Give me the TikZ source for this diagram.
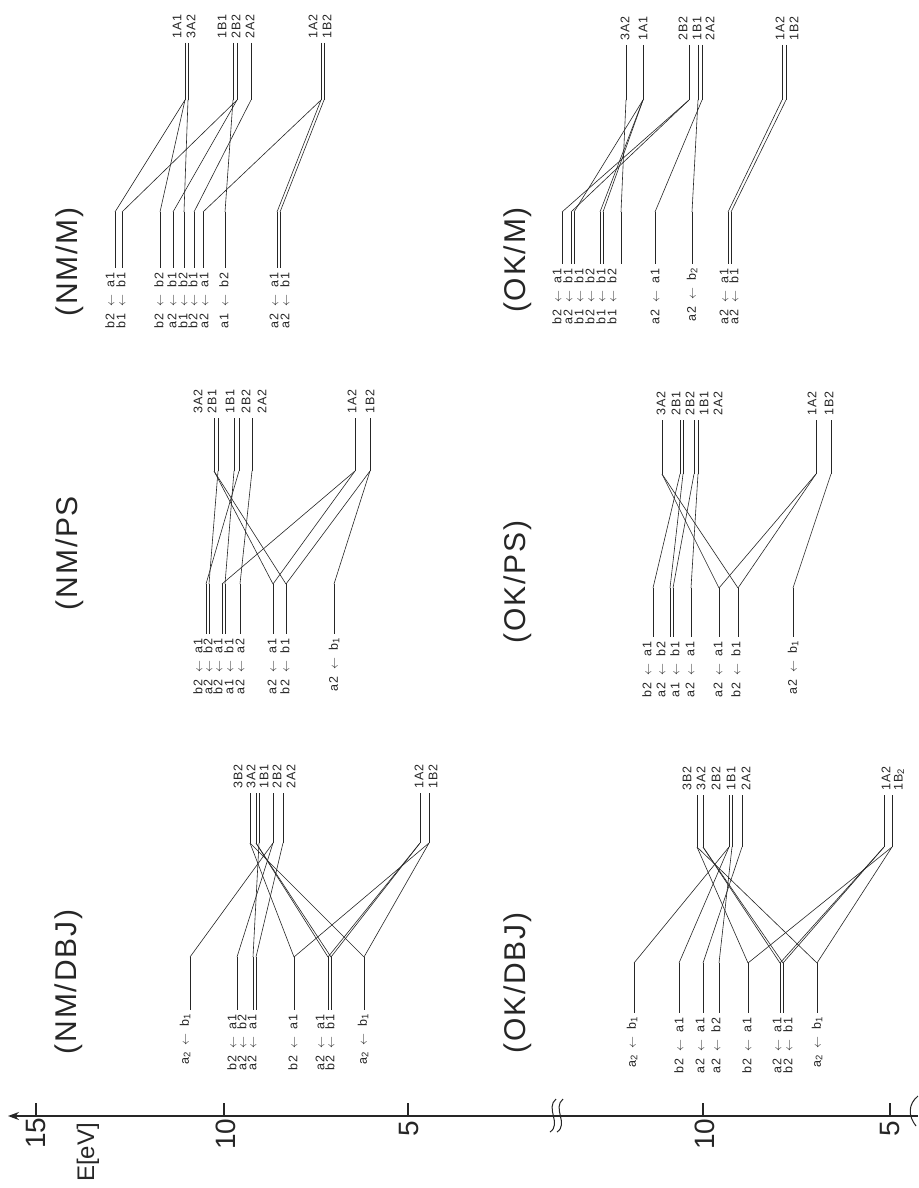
\documentclass[tikz,border=0pt]{standalone}
\usepackage{fontspec}
\setmainfont{Liberation Sans}
\newfontfamily\lblfont[LetterSpace=10]{Liberation Sans}
\newfontfamily\ttlfont[LetterSpace=6]{Liberation Sans}
\usetikzlibrary{arrows.meta}
\newcommand\tr[2]{#1\hspace{7pt}$\leftarrow$\hspace{7pt}#2}
\newcommand\sbs[1]{\raisebox{-1.5pt}{\fontsize{9.5}{9.5}\selectfont #1}}
\newcommand\rlev[4]{%
  \coordinate (#1t) at (#2,\Rt);
  \coordinate (#1b) at (#2,\Rb);
  \draw[lvl] (#1t) -- (#1b);
  \node[rlab] (#1n) at (#3,\Rt-4) {#4};}
\newcommand\llev[4]{%
  \coordinate (#1t) at (#2,\Lt);
  \coordinate (#1b) at (#2,\Lb);
  \draw[lvl] (#1t) -- (#1b);
  \node[llab] (#1n) at (#3,\Lb+4) {#4};}
\newcommand\conn[1]{\foreach \p/\q in {#1} {\draw[lvl] (\p b) -- (\q t);}}
\tikzset{
  lvl/.style={line width=0.6pt, draw=black!85},
  rlab/.style={rotate=90, anchor=west, inner sep=0pt, font=\lblfont\fontsize{12.5}{12.5}\selectfont, text=black!85},
  llab/.style={rotate=90, anchor=east, inner sep=0pt, font=\lblfont\fontsize{12.5}{12.5}\selectfont, text=black!85},
  ttl/.style={rotate=90, inner sep=0pt, font=\ttlfont\fontsize{30}{30}\selectfont, text=black!85},
  ticklab/.style={rotate=90, inner sep=0pt, font=\fontsize{28}{28}\selectfont, text=black!85},
  axisline/.style={line width=1.3pt, draw=black!85},
}
\begin{document}
\begin{tikzpicture}[x=1pt,y=-1pt]
\fill[white] (0,0) rectangle (918,1188);
\useasboundingbox (0,0) rectangle (918,1188);

% ---------------- NM / M ----------------
\def\Rt{43}\def\Rb{100}\def\Lt{212}\def\Lb{268}
\rlev{ma1}{185}{177}{1A1}
\rlev{ma2}{188}{191}{3A2}
\rlev{ma3}{233}{222}{1B1}
\rlev{ma4}{237}{236}{2B2}
\rlev{ma5}{251}{250}{2A2}
\rlev{ma6}{321}{313}{1A2}
\rlev{ma7}{324}{327}{1B2}
\llev{mb1}{115}{110}{\tr{b2}{a1}}
\llev{mb2}{122}{121}{\tr{b1}{b1}}
\llev{mb3}{160}{159}{\tr{b2}{b2}}
\llev{mb4}{173}{172}{\tr{a2}{b1}}
\llev{mb5}{184}{183}{\tr{b1}{b2}}
\llev{mb6}{194}{193}{\tr{b2}{b1}}
\llev{mb7}{203}{204}{\tr{a2}{a1}}
\llev{mb8}{225}{224}{\tr{a1}{b2}}
\llev{mb9}{277}{274}{\tr{a2}{a1}}
\llev{mb10}{280}{285}{\tr{a2}{b1}}
\conn{ma1/mb1, ma1/mb3, ma2/mb5, ma3/mb8, ma4/mb2, ma4/mb4, ma5/mb6, ma6/mb7, ma6/mb9, ma7/mb10}

% ---------------- NM / PS ----------------
\def\Rt{418}\def\Rb{471}\def\Lt{584}\def\Lb{634}
\rlev{pa1}{214}{198}{3A2}
\rlev{pa2}{218}{212}{2B1}
\rlev{pa3}{234}{230}{1B1}
\rlev{pa4}{239}{246}{2B2}
\rlev{pa5}{252}{262}{2A2}
\rlev{pa6}{355}{352}{1A2}
\rlev{pa7}{370}{370}{1B2}
\llev{pb1}{206}{198}{\tr{b2}{a1}}
\llev{pb2}{209}{208}{\tr{a2}{b2}}
\llev{pb3}{222}{218}{\tr{b2}{a1}}
\llev{pb4}{225}{229}{\tr{a1}{b1}}
\llev{pb5}{240}{240}{\tr{a2}{a2}}
\llev{pb6}{273}{272}{\tr{a2}{a1}}
\llev{pb7}{286}{285}{\tr{b2}{b1}}
\llev{pb8}{334}{334}{\tr{a2}{b\sbs{1}}}
\conn{pa1/pb6, pa1/pb7, pa2/pb2, pa3/pb4, pa4/pb1, pa5/pb5, pa6/pb3, pa6/pb6, pa7/pb7, pa7/pb8}

% ---------------- NM / DBJ ----------------
\def\Rt{793}\def\Rb{843}\def\Lt{957}\def\Lb{1010}
\rlev{da1}{250}{238}{3B2}
\rlev{da2}{256}{251}{3A2}
\rlev{da3}{259}{264}{1B1}
\rlev{da4}{273}{277}{2B2}
\rlev{da5}{283}{291}{2A2}
\rlev{da6}{420}{419}{1A2}
\rlev{da7}{429}{433}{1B2}
\llev{db1}{190}{185}{a\sbs{2}\hspace{7pt}$\leftarrow$\hspace{7pt}b\sbs{1}}
\llev{db2}{237}{232}{\tr{b2}{a1}}
\llev{db3}{253}{242}{\tr{a2}{b2}}
\llev{db4}{256}{252}{\tr{a2}{a1}}
\llev{db5}{294}{293}{\tr{b2}{a1}}
\llev{db6}{328}{320}{\tr{a2}{a1}}
\llev{db7}{331}{330}{\tr{b2}{b1}}
\llev{db8}{364}{363}{a\sbs{2}\hspace{7pt}$\leftarrow$\hspace{7pt}b\sbs{1}}
\conn{da1/db5, da1/db8, da2/db6, da2/db7, da3/db3, da4/db1, da4/db2, da5/db4, da6/db6, da6/db7, da7/db5, da7/db8}

% ---------------- OK / M ----------------
\def\Rt{45}\def\Rb{100}\def\Lt{212}\def\Lb{264}
\rlev{oa1}{626}{625}{3A2}
\rlev{oa2}{643}{643}{1A1}
\rlev{oa3}{689}{683}{2B2}
\rlev{oa4}{698}{697}{1B1}
\rlev{oa5}{702}{710}{2A2}
\rlev{oa6}{782}{780}{1A2}
\rlev{oa7}{786}{794}{1B2}
\llev{ob1}{562}{557}{\tr{b2}{a1}}
\llev{ob2}{571}{568}{\tr{a2}{b1}}
\llev{ob3}{574}{579}{\tr{b1}{b1}}
\llev{ob4}{600}{590}{\tr{b2}{b2}}
\llev{ob5}{603}{601}{\tr{b1}{b1}}
\llev{ob6}{621}{612}{\tr{b1}{b2}}
\llev{ob7}{655}{655}{\tr{a2}{a1}}
\llev{ob8}{692}{692}{\tr{a2}{b\sbs{2}}}
\llev{ob9}{728}{724}{\tr{a2}{a1}}
\llev{ob10}{731}{734}{\tr{a2}{b1}}
\conn{oa1/ob6, oa2/ob3, oa2/ob4, oa2/ob5, oa3/ob1, oa3/ob2, oa4/ob8, oa5/ob7, oa6/ob9, oa7/ob10}

% ---------------- OK / PS ----------------
\def\Rt{420}\def\Rb{474}\def\Lt{588}\def\Lb{637}
\rlev{qa1}{662}{661}{3A2}
\rlev{qa2}{680}{676}{2B1}
\rlev{qa3}{683}{690}{2B2}
\rlev{qa4}{694}{704}{1B1}
\rlev{qa5}{698}{718}{2A2}
\rlev{qa6}{816}{812}{1A2}
\rlev{qa7}{831}{829}{1B2}
\llev{qb1}{653}{647}{\tr{b2}{a1}}
\llev{qb2}{670}{661}{\tr{a2}{b2}}
\llev{qb3}{673}{675}{\tr{a1}{b1}}
\llev{qb4}{691}{690}{\tr{a2}{a1}}
\llev{qb5}{719}{718}{\tr{a2}{a1}}
\llev{qb6}{738}{736}{\tr{b2}{b1}}
\llev{qb7}{793}{793}{\tr{a2}{b\sbs{1}}}
\conn{qa1/qb5, qa1/qb6, qa2/qb1, qa3/qb2, qa4/qb3, qa5/qb4, qa6/qb5, qa6/qb6, qa7/qb7}

% ---------------- OK / DBJ ----------------
\def\Rt{795}\def\Rb{847}\def\Lt{963}\def\Lb{1013}
\rlev{ka1}{697}{687}{3B2}
\rlev{ka2}{703}{701}{3A2}
\rlev{ka3}{729}{716}{2B2}
\rlev{ka4}{732}{731}{1B1}
\rlev{ka5}{742}{746}{2A2}
\rlev{ka6}{884}{886}{1A2}
\rlev{ka7}{892}{899}{1B\sbs{2}}
\llev{kb1}{634}{632}{a\sbs{2}\hspace{7pt}$\leftarrow$\hspace{7pt}b\sbs{1}}
\llev{kb2}{679}{679}{\tr{b2}{a1}}
\llev{kb3}{703}{700}{\tr{a2}{a1}}
\llev{kb4}{719}{716}{\tr{a2}{b2}}
\llev{kb5}{748}{747}{\tr{b2}{a1}}
\llev{kb6}{780}{777}{\tr{a2}{a1}}
\llev{kb7}{783}{788}{\tr{b2}{b1}}
\llev{kb8}{817}{817}{a\sbs{2}\hspace{7pt}$\leftarrow$\hspace{7pt}b\sbs{1}}
\conn{ka1/kb5, ka1/kb8, ka2/kb6, ka2/kb7, ka4/kb4, ka3/kb1, ka3/kb2, ka5/kb3, ka6/kb6, ka6/kb7, ka7/kb5, ka7/kb8}

% ---------------- titles ----------------
\node[ttl] (t1) at (70,262) {(NM/M)};
\node[ttl] (t2) at (70,553) {(NM/PS};
\node[ttl] (t3) at (69,982) {(NM/DBJ)};
\node[ttl] (t4) at (518,260) {(OK/M)};
\node[ttl] (t5) at (518,582) {(OK/PS)};
\node[ttl] (t6) at (518,983) {(OK/DBJ)};

% ---------------- energy axis ----------------
\coordinate (ax0) at (918,1116);
\coordinate (ax1) at (8,1116);
\draw[axisline, -{Stealth[length=11pt,width=8pt]}] (ax0) -- (ax1);
\foreach \t in {36,224,408,703,890} {\draw[axisline] (\t,1116) -- (\t,1103);}
\node[ticklab] (n15) at (36,1133) {15};
\node[ticklab] (n10a) at (226,1134) {10};
\node[ticklab] (n5a) at (409,1129) {5};
\node[ticklab] (n10b) at (705,1134) {10};
\node[ticklab] (n5b) at (890,1129) {5};
\node[ticklab, anchor=east, font=\fontsize{24}{24}\selectfont] (eunit) at (88,1123) {E[eV]};
% axis break
\foreach \d in {0,7} {
  \draw[line width=1pt, black!85] (550+\d,1132) .. controls (562+\d,1124) and (545+\d,1108) .. (556+\d,1099);
}
\draw[line width=1pt, black!85] (918,1096) .. controls (908,1104) and (908,1116) .. (916,1126);
\end{tikzpicture}
\end{document}
